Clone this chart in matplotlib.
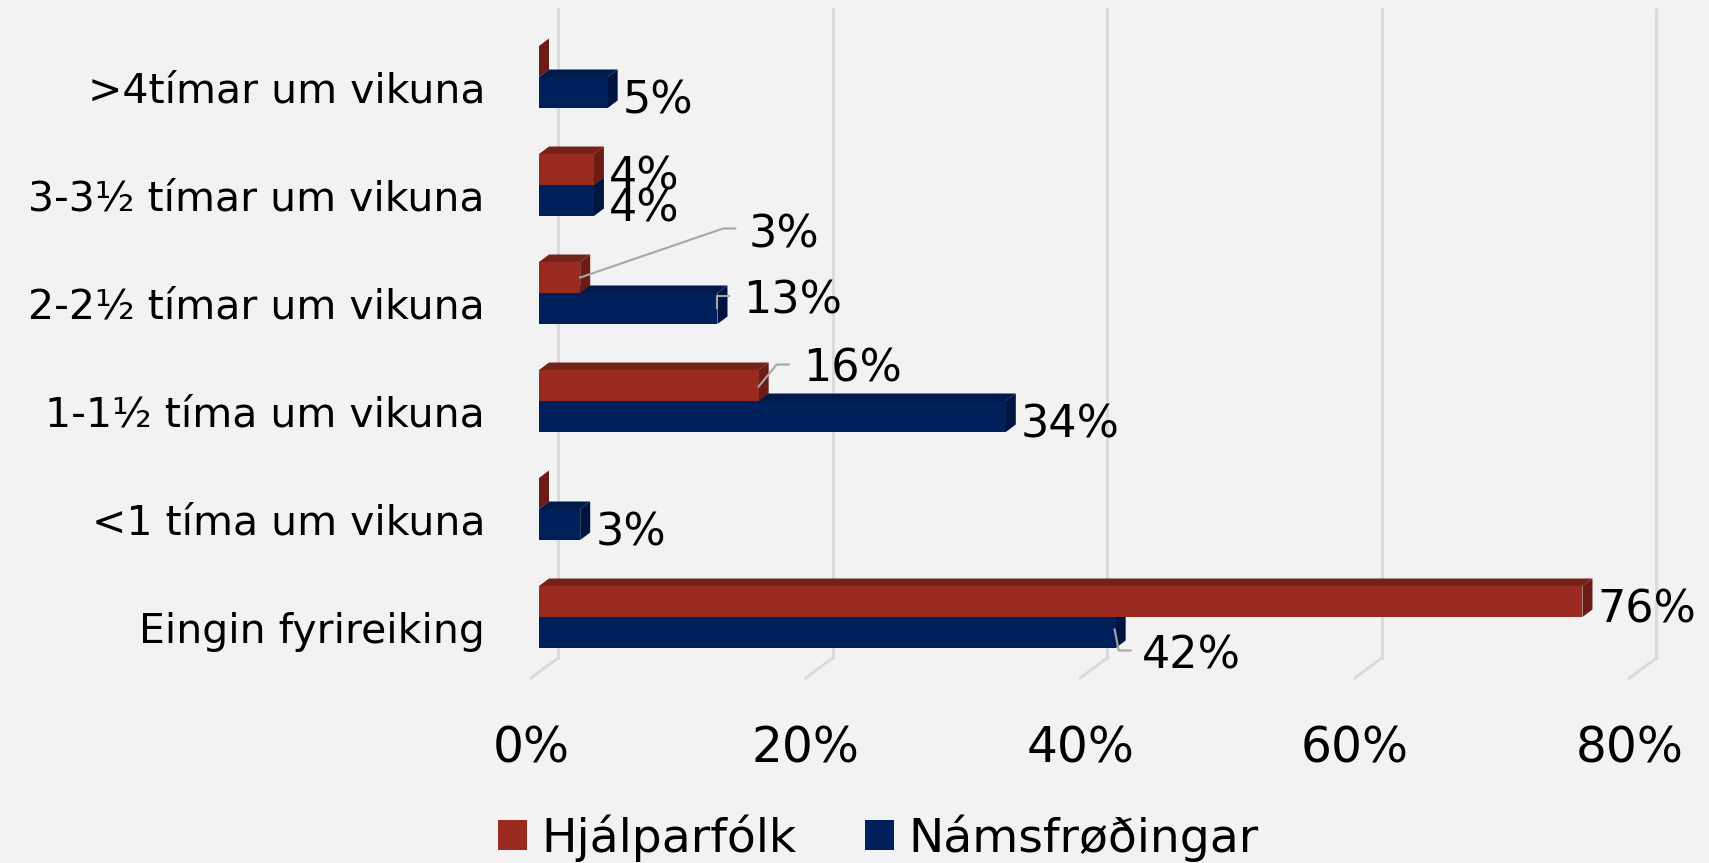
import numpy as np
import matplotlib.pyplot as plt
from matplotlib.patches import Polygon

categories = ['Eingin fyrireiking', '<1 tíma um vikuna', '1-1½ tíma um vikuna',
              '2-2½ tímar um vikuna', '3-3½ tímar um vikuna', '>4tímar um vikuna']
hjalparfolk = [0.76, 0.00, 0.16, 0.03, 0.04, 0.00]
namsfrodingar = [0.42, 0.03, 0.34, 0.13, 0.04, 0.05]
series_names = ['Hjálparfólk', 'Námsfrøðingar']
xticks = [0.0, 0.2, 0.4, 0.6, 0.8]
xtick_labels = ['0%', '20%', '40%', '60%', '80%']

W, H = 1709, 863
BG = '#F2F2F2'
red_front, red_top, red_side = '#9A2B20', '#74231B', '#6B1C15'
blue_front, blue_top, blue_side = '#00205B', '#001A4C', '#001440'
grid_col = '#D9D9D9'
lead_col = '#A6A6A6'

plt.rcParams['font.family'] = ['DejaVu Sans']

fig = plt.figure(figsize=(W / 100, H / 100), dpi=100, facecolor=BG)
# axes placed in pixels
ax_l, ax_r, ax_t, ax_b = 500, 1700, 0, 690
ax = fig.add_axes([ax_l / W, 1 - ax_b / H, (ax_r - ax_l) / W, (ax_b - ax_t) / H])
ax.set_facecolor(BG)
x0px, xscale = 539, 1373
y0px, yscale = 627, 108
ax.set_xlim((ax_l - x0px) / xscale, (ax_r - x0px) / xscale)
ax.set_ylim((y0px - ax_b) / yscale, (y0px - ax_t) / yscale)


def px(d):
    return d / xscale


def py(d):
    return d / yscale


# back wall grid + floor diagonals
y_top, y_back, y_front = py(627 - 9), py(627 - 658), py(627 - 678)
for t in xticks:
    ax.plot([t + px(19), t + px(19)], [y_back, y_top], color=grid_col, lw=2, zorder=1)
    ax.plot([t + px(19), t - px(8)], [y_back, y_front], color=grid_col, lw=2, zorder=1)

ypos = np.arange(len(categories))
h = py(31)
ddx, ddy = px(10), py(7.5)
yb = ypos + py(10)

reds = ax.barh(yb, hjalparfolk, height=h, align='edge', color=red_front, zorder=5,
               edgecolor='none')
blues = ax.barh(yb - h, namsfrodingar, height=h, align='edge', color=blue_front, zorder=3,
                edgecolor='none')


def faces(v, bottom, top, ctop, cside, z):
    ax.add_patch(Polygon([(0, top), (v, top), (v + ddx, top + ddy), (ddx, top + ddy)],
                         closed=True, color=ctop, lw=0, zorder=z))
    ax.add_patch(Polygon([(v, bottom), (v, top), (v + ddx, top + ddy), (v + ddx, bottom + ddy)],
                         closed=True, color=cside, lw=0, zorder=z))


for i in range(len(categories)):
    faces(namsfrodingar[i], yb[i] - h, yb[i], blue_top, blue_side, 2)
    faces(hjalparfolk[i], yb[i], yb[i] + h, red_top, red_side, 4)

# data labels; special ones carry leader lines (offsets in px)
special = {
    (0, 3): dict(lx=168, ly=43, lead=[(0, 0), (143, 49), (155, 49)]),
    (1, 3): dict(lx=26, ly=7, lead=[(0, 0), (0, 12), (12, 12)]),
    (0, 2): dict(lx=44, ly=16, lead=[(0, -1), (18, 21), (30, 21)]),
    (1, 0): dict(lx=26, ly=-23, lead=[(-1, 3), (3, -18), (15, -18)]),
}
for s, vals in enumerate([hjalparfolk, namsfrodingar]):
    for i, v in enumerate(vals):
        if v == 0:
            continue
        c = yb[i] + h / 2 if s == 0 else yb[i] - h / 2
        sp = special.get((s, i))
        if sp:
            pts = sp['lead']
            ax.plot([v + px(a) for a, b in pts], [c + py(b) for a, b in pts],
                    color=lead_col, lw=1.5, zorder=6)
            lx, ly = v + px(sp['lx']), c + py(sp['ly'])
        else:
            lx, ly = v + px(15), c - py(8)
        ax.text(lx, ly, f'{v * 100:.0f}%', fontsize=32, ha='left', va='center', zorder=7)

ax.set_yticks(ypos)
ax.set_yticklabels(categories, fontsize=29.5)
ax.set_xticks([t - px(8) for t in xticks])
ax.set_xticklabels(xtick_labels, fontsize=35)
ax.tick_params(axis='y', length=0, pad=10.8)
ax.tick_params(axis='x', length=0, pad=25)
for sp in ax.spines.values():
    sp.set_visible(False)

fig.legend([reds, blues], series_names, loc='center', bbox_to_anchor=(878 / W, 1 - 838 / H),
           ncol=2, frameon=False, fontsize=34, handlelength=0.62, handleheight=0.62,
           handletextpad=0.3, columnspacing=1.45, borderpad=0, borderaxespad=0)

fig.savefig('out.png', dpi=100, facecolor=BG)
